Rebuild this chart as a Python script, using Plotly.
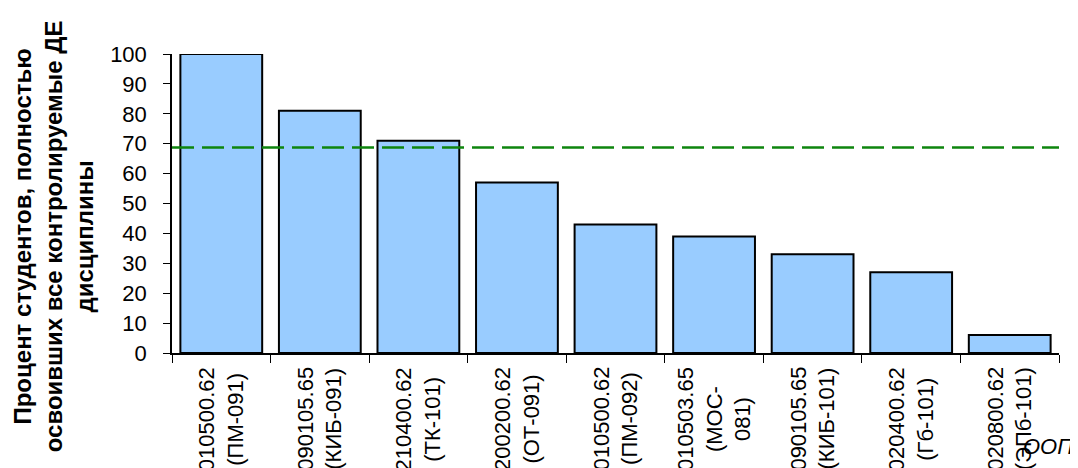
import plotly.graph_objects as go

codes = ["010500.62", "090105.65", "210400.62", "200200.62", "010500.62",
         "010503.65", "090105.65", "020400.62", "020800.62"]
groups = ["(ПМ-091)", "(КИБ-091)", "(ТК-101)", "(ОТ-091)", "(ПМ-092)",
          "(МОС-<br>081)", "(КИБ-101)", "(Гб-101)", "(ЭПб-101)"]
values = [100, 81, 71, 57, 43, 39, 33, 27, 6]
threshold = 68.7
y_title = "Процент студентов, полностью<br>освоивших все контролируемые ДЕ<br>дисциплины"
x_title = "ООП"

cats = [f"c{i}" for i in range(len(values))]
FONT = "Arial, Liberation Sans, sans-serif"

fig = go.Figure()
fig.add_trace(go.Bar(
    x=cats, y=values,
    marker=dict(color="#99CCFF", line=dict(color="black", width=2)),
    width=0.83,
))

fig.add_shape(type="line", xref="paper", yref="y", x0=0, x1=1,
              y0=threshold, y1=threshold,
              line=dict(color="#0E850E", width=2.5, dash="22px,8px"))

for c, code, grp in zip(cats, codes, groups):
    fig.add_annotation(x=c, y=0, xref="x", yref="paper", yanchor="top",
                       xanchor="center", yshift=-12, textangle=-90,
                       text=f"{code}<br>{grp}", showarrow=False, align="center",
                       font=dict(family=FONT, size=22, color="black"))

# y-axis title (page body has an 8px margin, layout coordinates compensate)
fig.add_annotation(x=-0.134, y=0.391, xref="paper", yref="paper",
                   xanchor="center", yanchor="middle", text=y_title,
                   showarrow=False, textangle=-90, align="center",
                   font=dict(family=FONT, size=24, color="black", weight="bold"))

fig.add_annotation(x=1.0, y=-0.314, xref="paper", yref="paper", xanchor="right",
                   yanchor="middle", xshift=16, text=f"<i>{x_title}</i>",
                   showarrow=False,
                   font=dict(family=FONT, size=22, color="black"))

fig.update_layout(
    width=1078, height=468,
    margin=dict(l=164, r=27, t=46, b=123),
    paper_bgcolor="white", plot_bgcolor="white",
    showlegend=False,
    font=dict(family=FONT, size=21, color="black"),
)
fig.update_yaxes(range=[0, 100], tickvals=list(range(0, 101, 10)),
                 showline=True, linecolor="black", linewidth=1.5,
                 ticks="outside", ticklen=7, tickcolor="black",
                 ticklabelstandoff=12,
                 showgrid=False, zeroline=False,
                 tickfont=dict(family=FONT, size=22))
fig.update_xaxes(showline=True, linecolor="black", linewidth=1.5,
                 ticks="outside", ticklen=8, tickcolor="black",
                 tickson="boundaries", showticklabels=False, showgrid=False)

fig.write_html("out.html")
